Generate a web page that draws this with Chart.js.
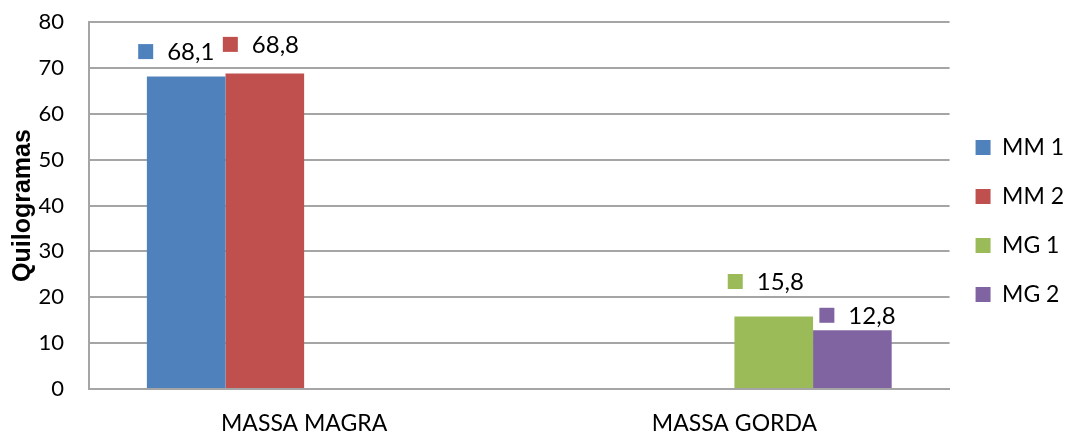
<!DOCTYPE html>
<html>
<head>
<meta charset="utf-8">
<script src="https://cdn.jsdelivr.net/npm/chart.js@4/dist/chart.umd.min.js"></script>
<style>
  html, body { margin: 0; padding: 0; background: #ffffff; }
  #wrap { width: 1067px; height: 434px; position: relative; }
</style>
</head>
<body>
<div id="wrap"><canvas id="chart"></canvas></div>
<script>
// Body composition, two measurements each (kg)
const categories = ['MASSA MAGRA', 'MASSA GORDA'];
const seriesNames = ['MM 1', 'MM 2', 'MG 1', 'MG 2'];
const mm1 = [68.1, null];
const mm2 = [68.8, null];
const mg1 = [null, 15.8];
const mg2 = [null, 12.8];
const yTicks = [0, 10, 20, 30, 40, 50, 60, 70, 80];

const colors = ['#4F81BD', '#C0504D', '#9BBB59', '#8064A2'];
// value label placement relative to the bar top centre: [dx of key square, dy of label centre]
const labelOffsets = [[-48, -25], [-42, -29], [-46, -35], [-33, -15]];

const fmt = v => v.toFixed(1).replace('.', ',');

const valueLabels = {
  id: 'valueLabels',
  afterDatasetsDraw(chart) {
    const ctx = chart.ctx;
    ctx.save();
    ctx.font = '24px Lato';
    ctx.textBaseline = 'middle';
    ctx.textAlign = 'left';
    chart.data.datasets.forEach((ds, i) => {
      const meta = chart.getDatasetMeta(i);
      meta.data.forEach((bar, j) => {
        const v = ds.data[j];
        if (v === null || v === undefined) return;
        const [dx, dy] = labelOffsets[i];
        const sx = bar.x + dx;
        const cy = bar.y + dy;
        ctx.fillStyle = colors[i];
        ctx.fillRect(sx, cy - 7.5, 15, 15);
        ctx.fillStyle = '#000000';
        ctx.fillText(fmt(v), sx + 29, cy + 1);
      });
    });
    ctx.restore();
  }
};

// lift the legend column slightly above the vertical centre
const legendLift = {
  id: 'legendLift',
  afterLayout(chart) {
    if (chart.legend) {
      chart.legend.top -= 7;
      chart.legend.bottom -= 7;
    }
  }
};

const seriesData = [mm1, mm2, mg1, mg2];

new Chart(document.getElementById('chart'), {
  type: 'bar',
  data: {
    labels: categories,
    datasets: seriesNames.map((name, i) => ({
      label: name,
      data: seriesData[i],
      backgroundColor: colors[i],
      borderWidth: 0,
      barPercentage: 1.0,
      categoryPercentage: 0.731
    }))
  },
  options: {
    responsive: true,
    maintainAspectRatio: false,
    animation: false,
    layout: { padding: { top: 22, right: -7, bottom: 0, left: 8 } },
    plugins: {
      legend: {
        position: 'right',
        align: 'center',
        labels: {
          boxWidth: 15,
          boxHeight: 15,
          padding: 26,
          color: '#000000',
          font: { family: 'Lato', size: 23 }
        }
      },
      tooltip: { enabled: false }
    },
    scales: {
      x: {
        afterFit(scale) { scale.height = 45; },
        grid: { display: false, drawTicks: false },
        border: { display: true, color: '#a5a5a5', width: 2 },
        ticks: { color: '#000000', font: { family: 'Lato', size: 23 }, padding: 21 }
      },
      y: {
        min: 0,
        max: 80,
        afterBuildTicks(scale) { scale.ticks = yTicks.map(v => ({ value: v })); },
        afterFit(scale) { scale.width = 81; },
        grid: { color: '#a5a5a5', lineWidth: 2, drawTicks: true, tickLength: 23, tickColor: 'rgba(0,0,0,0)' },
        border: { display: true, color: '#a5a5a5', width: 2 },
        ticks: { color: '#000000', font: { family: 'Lato', size: 22 }, padding: 2 },
        title: {
          display: true,
          text: 'Quilogramas',
          color: '#000000',
          font: { family: 'Liberation Sans', size: 25, weight: 'bold' },
          padding: { top: 0, bottom: 0 }
        }
      }
    }
  },
  plugins: [valueLabels, legendLift]
});
</script>
</body>
</html>
